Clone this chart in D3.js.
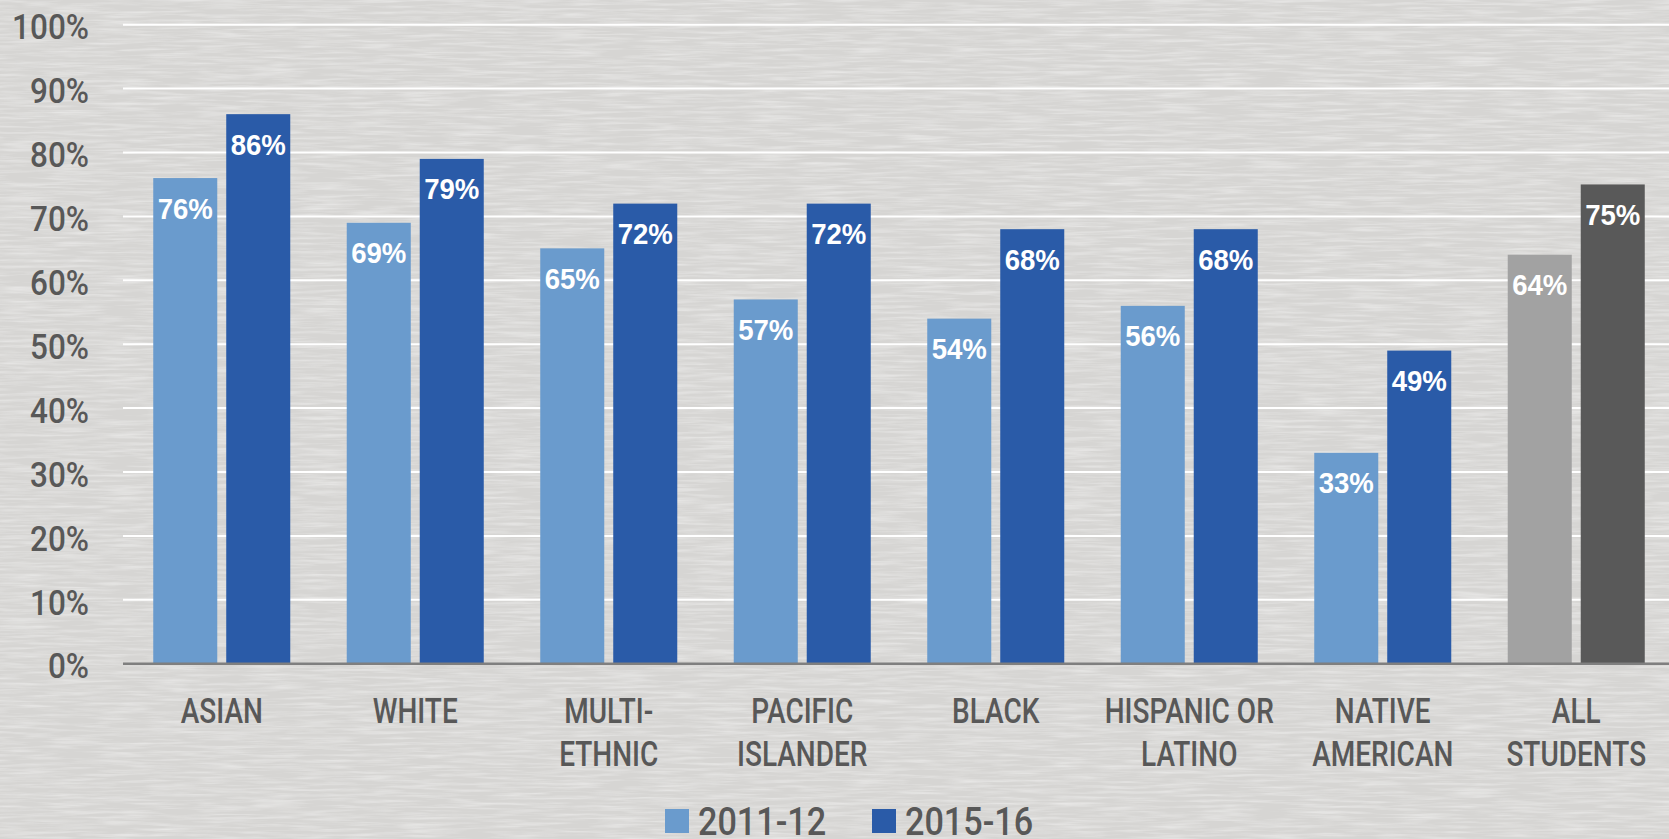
<!DOCTYPE html>
<html>
<head>
<meta charset="utf-8">
<script src="https://cdn.jsdelivr.net/npm/d3@7"></script>
<style>
  html, body { margin: 0; padding: 0; background: #d9d8d6; overflow: hidden; }
  #chart { width: 1669px; height: 839px; }
</style>
</head>
<body>
<div id="chart"></div>
<script>
// categories (two-line labels) and series values
const groups = ['ASIAN', 'WHITE', 'MULTI-|ETHNIC', 'PACIFIC|ISLANDER', 'BLACK', 'HISPANIC OR|LATINO', 'NATIVE|AMERICAN', 'ALL|STUDENTS'];
const seriesNames = ['2011-12', '2015-16'];
const values_2011 = [0.76, 0.69, 0.65, 0.57, 0.54, 0.56, 0.33, 0.64];
const values_2015 = [0.86, 0.79, 0.72, 0.72, 0.68, 0.68, 0.49, 0.75];
const yTicks = [0, 0.1, 0.2, 0.3, 0.4, 0.5, 0.6, 0.7, 0.8, 0.9, 1.0];

let barData = [];
for (let i = 0; i < groups.length; i++) {
    barData.push({ group: groups[i], series: seriesNames[0], value: values_2011[i], idx: i });
    barData.push({ group: groups[i], series: seriesNames[1], value: values_2015[i], idx: i });
}

const W = 1669, H = 839;
const mg = {top: 24.7, left: 125, right: -4, bottom: 175.3};

const blues = ['#6a9bcd', '#2a5ba8'];
const greys = ['#a2a2a2', '#595959'];
function barColor(d) {
    let pal = d.group === 'ALL|STUDENTS' ? greys : blues;
    return pal[seriesNames.indexOf(d.series)];
}

const svg = d3.select('#chart').append('svg')
    .attr('width', W)
    .attr('height', H);

// paper-ish texture
const defs = svg.append('defs');
const filt = defs.append('filter').attr('id', 'paper').attr('x', 0).attr('y', 0).attr('width', '100%').attr('height', '100%');
filt.append('feTurbulence')
    .attr('type', 'fractalNoise')
    .attr('baseFrequency', '0.02 0.35')
    .attr('numOctaves', 3)
    .attr('seed', 7);
filt.append('feColorMatrix')
    .attr('type', 'matrix')
    .attr('values', '0 0 0 0 1  0 0 0 0 1  0 0 0 0 1  0 0 0 -1.8 1.1');

svg.append('rect').attr('width', W).attr('height', H).attr('fill', '#d6d5d3');
svg.append('rect').attr('width', W).attr('height', H).attr('filter', 'url(#paper)').attr('opacity', 0.45);

const x0 = d3.scaleBand()
    .domain(groups)
    .range([mg.left, W - mg.right])
    .padding(0);

const x1 = d3.scaleBand()
    .domain(seriesNames)
    .range([0, x0.bandwidth()])
    .paddingInner(0.123)
    .paddingOuter(0.387);

const y = d3.scaleLinear()
    .domain([0, 1])
    .range([H - mg.bottom, mg.top]);

const font = 'Roboto, "Liberation Sans", sans-serif';
const txtColor = '#585858';

// gridlines
svg.append('g')
    .selectAll('line')
    .data(yTicks.filter(t => t > 0))
    .enter().append('line')
    .attr('x1', 123)
    .attr('x2', W)
    .attr('y1', d => y(d))
    .attr('y2', d => y(d))
    .attr('stroke', '#ffffff')
    .attr('stroke-width', 2);

// y tick labels
const yAxis = d3.axisLeft(y).tickValues(yTicks).tickFormat(d3.format('.0%')).tickSize(0).tickPadding(0);
const gy = svg.append('g')
    .attr('transform', 'translate(89,3)')
    .call(yAxis);
gy.select('.domain').remove();
gy.selectAll('text')
    .attr('fill', txtColor)
    .attr('font-family', font)
    .attr('font-weight', 500)
    .attr('font-size', 35)
    .attr('transform', 'scale(0.9,1)');

// bars
const bars = svg.append('g')
    .selectAll('rect')
    .data(barData)
    .enter().append('rect')
    .attr('x', d => x0(d.group) + x1(d.series))
    .attr('y', d => y(d.value))
    .attr('width', x1.bandwidth())
    .attr('height', d => y(0) - y(d.value))
    .attr('fill', d => barColor(d));

// value labels
svg.append('g')
    .selectAll('text')
    .data(barData)
    .enter().append('text')
    .attr('transform', d => 'translate(' + (x0(d.group) + x1(d.series) + x1.bandwidth() / 2) + ',' + (y(d.value) + 40.5) + ') scale(0.92,1)')
    .attr('text-anchor', 'middle')
    .attr('fill', '#ffffff')
    .attr('font-family', '"Liberation Sans", Arial, sans-serif')
    .attr('font-weight', 'bold')
    .attr('font-size', 30)
    .text(d => d3.format('.0%')(d.value));

// baseline
svg.append('line')
    .attr('x1', 123)
    .attr('x2', W)
    .attr('y1', y(0))
    .attr('y2', y(0))
    .attr('stroke', '#7f7f7f')
    .attr('stroke-width', 2.5);

// category labels
const xAxis = d3.axisBottom(x0).tickSize(0).tickFormat('');
const gx = svg.append('g')
    .attr('transform', 'translate(0,' + y(0) + ')')
    .call(xAxis);
gx.select('.domain').remove();
gx.selectAll('.tick').each(function(d) {
    let lines = d.split('|');
    let t = d3.select(this).append('text')
        .attr('text-anchor', 'middle')
        .attr('fill', txtColor)
        .attr('font-family', font)
        .attr('font-weight', 500)
        .attr('font-size', 35)
        .attr('transform', 'scale(0.8,1)');
    lines.forEach((ln, k) => {
        t.append('tspan').attr('x', 0).attr('y', 59.5 + k * 43).text(ln);
    });
});

// legend
const legendX = [665, 872];
const legend = svg.append('g')
    .selectAll('g')
    .data(seriesNames)
    .enter().append('g')
    .attr('transform', (d, i) => 'translate(' + legendX[i] + ',809)');
legend.append('rect')
    .attr('width', 24)
    .attr('height', 24)
    .attr('fill', (d, i) => blues[i]);
legend.append('text')
    .attr('transform', 'translate(33,25.5) scale(0.9,1)')
    .attr('fill', txtColor)
    .attr('font-family', font)
    .attr('font-weight', 500)
    .attr('font-size', 38)
    .text(d => d);
</script>
</body>
</html>
